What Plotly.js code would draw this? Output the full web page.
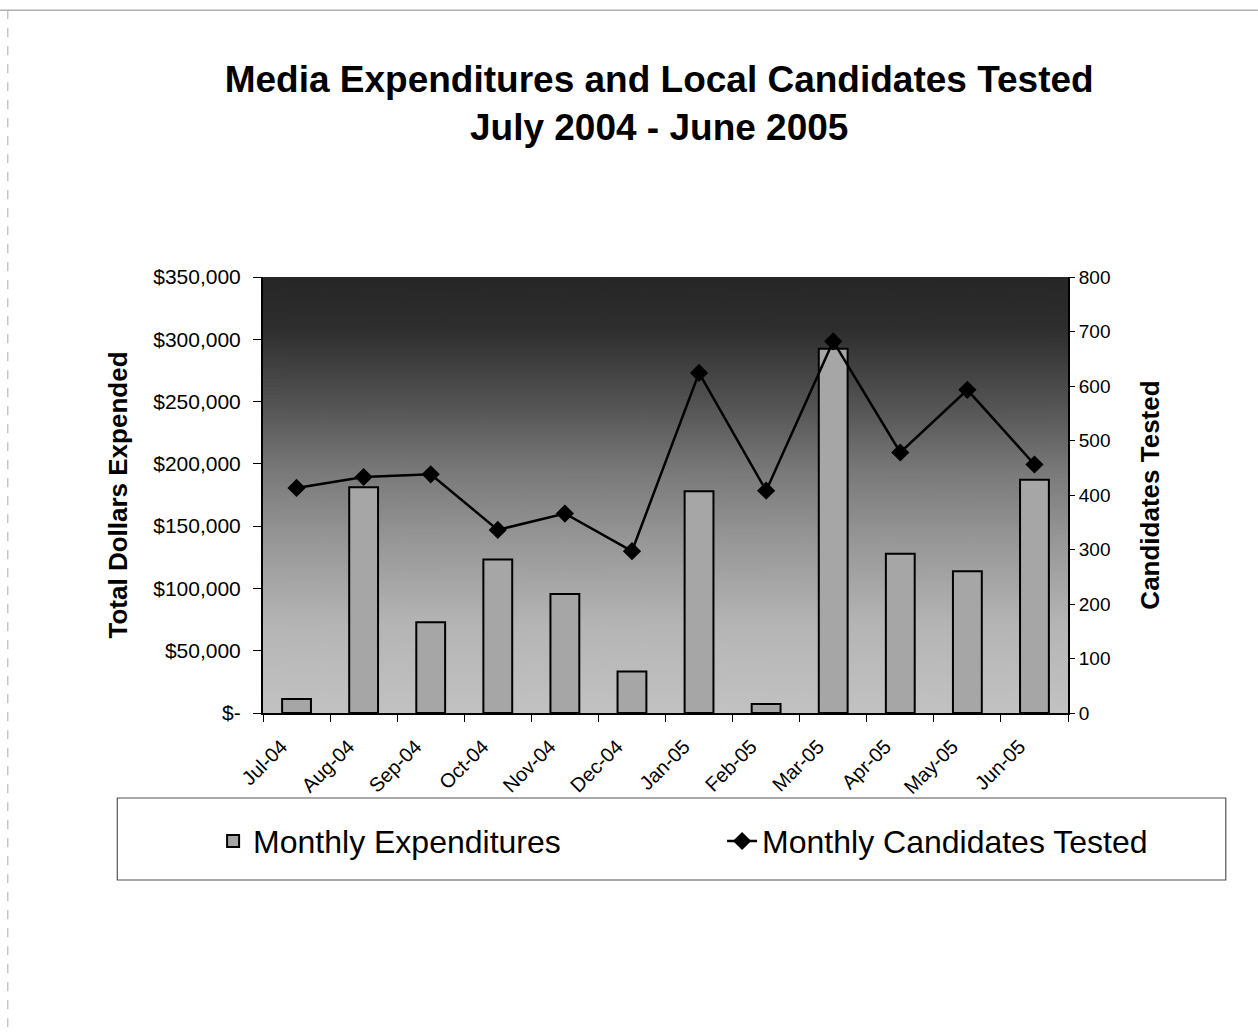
<!DOCTYPE html>
<html>
<head>
<meta charset="utf-8">
<script src="https://cdn.plot.ly/plotly-3.0.1.min.js"></script>
<style>
html,body{margin:0;padding:0;background:#fff;}
#chart{width:1258px;height:1036px;}
</style>
</head>
<body>
<div id="chart"></div>
<script>
// ---- data ----
const months = ["Jul-04","Aug-04","Sep-04","Oct-04","Nov-04","Dec-04","Jan-05","Feb-05","Mar-05","Apr-05","May-05","Jun-05"];
const expenditures = [11300, 181300, 72800, 123200, 95600, 33400, 178000, 7200, 292500, 127800, 113800, 187200];
const candidates = [413, 433, 438, 336, 366, 297, 624, 408, 682, 478, 593, 456];
const leftTickVals = [0, 50000, 100000, 150000, 200000, 250000, 300000, 350000];
const leftTickText = ["$-", "$50,000", "$100,000", "$150,000", "$200,000", "$250,000", "$300,000", "$350,000"];
const rightTickVals = [0, 100, 200, 300, 400, 500, 600, 700, 800];

// ---- background gradient for plot area ----
function gradientURL() {
  const c = document.createElement('canvas');
  c.width = 20; c.height = 436;
  const g = c.getContext('2d');
  const lg = g.createLinearGradient(0, 0, 0, 436);
  lg.addColorStop(0.00, '#262626');
  lg.addColorStop(0.12, '#2e2e2e');
  lg.addColorStop(0.30, '#555555');
  lg.addColorStop(0.45, '#7a7a7a');
  lg.addColorStop(0.60, '#969696');
  lg.addColorStop(0.80, '#b5b5b5');
  lg.addColorStop(1.00, '#c2c2c2');
  g.fillStyle = lg;
  g.fillRect(0, 0, 20, 436);
  return c.toDataURL('image/png');
}

const font = 'Arial, "Liberation Sans", sans-serif';

const traces = [
  {
    type: 'bar',
    name: 'Monthly Expenditures',
    x: months,
    y: expenditures,
    yaxis: 'y',
    marker: {color: '#a6a6a6', line: {color: '#000', width: 2}},
    hoverinfo: 'x+y'
  },
  {
    type: 'scatter',
    mode: 'lines+markers',
    name: 'Monthly Candidates Tested',
    x: months,
    y: candidates,
    yaxis: 'y2',
    line: {color: '#000', width: 2.5},
    marker: {symbol: 'diamond', size: 14, color: '#000'}
  }
];

const layout = {
  width: 1258,
  height: 1036,
  paper_bgcolor: '#fff',
  plot_bgcolor: 'rgba(0,0,0,0)',
  margin: {l: 263, r: 190, t: 277, b: 323},
  font: {family: font, color: '#000'},
  title: {
    text: '<b>Media Expenditures and Local Candidates Tested<br>July 2004 - June 2005</b>',
    font: {family: font, size: 37, color: '#000'},
    x: 0.524, xanchor: 'center',
    y: 0.911, yanchor: 'middle',
    xref: 'container', yref: 'container'
  },
  bargap: 0.57,
  showlegend: true,
  legend: {
    orientation: 'h',
    x: -0.062, xanchor: 'left',
    y: -0.294, yanchor: 'middle',
    font: {family: font, size: 32, color: '#000'},
    bgcolor: 'rgba(0,0,0,0)',
    borderwidth: 0,
    entrywidth: 464,
    traceorder: 'normal'
  },
  xaxis: {
    type: 'category',
    tickangle: -45,
    tickfont: {family: font, size: 20, color: '#000'},
    showline: true, linecolor: '#000', linewidth: 2,
    ticks: 'outside', tickson: 'boundaries', ticklen: 7, tickcolor: '#000', tickwidth: 1,
    showgrid: false, zeroline: false,
    ticklabelshift: -15,
    ticklabelstandoff: 12,
    range: [-0.5, 11.5]
  },
  yaxis: {
    range: [0, 350000],
    tickvals: leftTickVals,
    ticktext: leftTickText,
    tickfont: {family: font, size: 21, color: '#000'},
    showline: true, linecolor: '#000', linewidth: 2,
    ticks: 'outside', ticklen: 8, tickcolor: '#000',
    ticklabelstandoff: 8,
    showgrid: false, zeroline: false,
    title: {text: '<b>Total Dollars Expended</b>', font: {family: font, size: 26, color: '#000'}, standoff: 18}
  },
  yaxis2: {
    overlaying: 'y',
    side: 'right',
    range: [0, 800],
    tickvals: rightTickVals,
    tickfont: {family: font, size: 19, color: '#000'},
    showline: true, linecolor: '#000', linewidth: 2,
    ticks: 'outside', ticklen: 5, tickcolor: '#000',
    showgrid: false, zeroline: false,
    title: {text: '<b>Candidates Tested</b>', font: {family: font, size: 26, color: '#000'}, standoff: 31}
  },
  images: [{
    source: gradientURL(),
    xref: 'paper', yref: 'paper',
    x: 0, y: 1, sizex: 1, sizey: 1,
    xanchor: 'left', yanchor: 'top',
    sizing: 'stretch', layer: 'below'
  }],
  shapes: [
    {type: 'rect', xref: 'paper', yref: 'paper',
     x0: -0.181, x1: 1.196, y0: -0.383, y1: -0.195,
     line: {color: '#555', width: 1.2}, fillcolor: 'rgba(0,0,0,0)'},
    {type: 'line', xref: 'paper', yref: 'paper',
     x0: -0.327, x1: 1.236, y0: 1.612, y1: 1.612,
     line: {color: '#888', width: 1}},
    {type: 'line', xref: 'paper', yref: 'paper',
     x0: -0.317, x1: -0.317, y0: 1.612, y1: -0.74,
     line: {color: '#aaa', width: 1, dash: 'dash'}}
  ]
};

Plotly.newPlot('chart', traces, layout, {displayModeBar: false, staticPlot: true});
</script>
</body>
</html>
